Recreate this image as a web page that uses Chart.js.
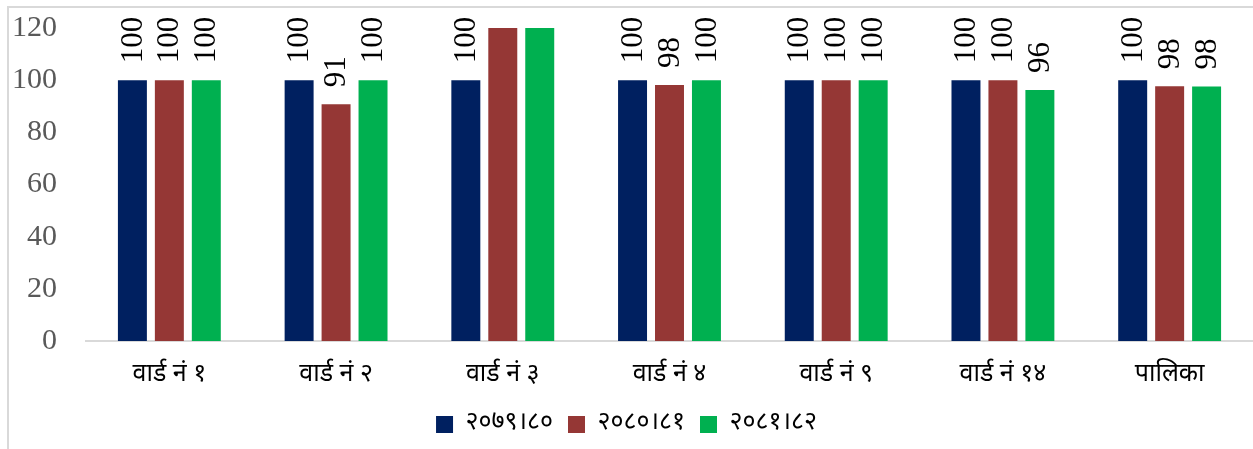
<!DOCTYPE html>
<html>
<head>
<meta charset="utf-8">
<script src="https://cdn.jsdelivr.net/npm/chart.js@4/dist/chart.umd.min.js"></script>
<style>
    html, body { margin: 0; padding: 0; background: #fff; }
    body { width: 1253px; height: 449px; position: relative; overflow: hidden; }
    .frame {
        position: absolute; left: 7px; top: 6px; width: 1300px; height: 500px;
        border-left: 2px solid #d9d9d9; border-top: 2px solid #d9d9d9;
    }
    #wrap { position: absolute; left: 0; top: 0; width: 1253px; height: 449px; }
</style>
</head>
<body>
<div class="frame"></div>
<div id="wrap"><canvas id="wardChart"></canvas></div>
<script>
// Data
const categories = ['वार्ड नं १', 'वार्ड नं २', 'वार्ड नं ३', 'वार्ड नं ४', 'वार्ड नं ९', 'वार्ड नं १४', 'पालिका'];
const seriesNames = ['२०७९।८०', '२०८०।८१', '२०८१।८२'];
const values7980 = [100, 100, 100, 100, 100, 100, 100];
const values8081 = [100, 90.8, 120, 98.1, 100, 100, 97.7];
const values8182 = [100, 100, 120, 100, 100, 96.2, 97.6];
const yTicks = [0, 20, 40, 60, 80, 100, 120];

const colors = {
    navy: '#002060',
    brick: '#953735',
    green: '#00B050',
    axis: '#d9d9d9',
    tick: '#595959',
    text: '#000000'
};

const devFont = '"Noto Sans Devanagari", "Lohit Devanagari", "Mangal", "Noto Sans", sans-serif';
const serifFont = '"Liberation Serif", "Times New Roman", serif';

// Rotated value labels above bars (values at the axis max run off the chart, so they are skipped)
const barLabels = {
    id: 'barLabels',
    afterDatasetsDraw(chart) {
        const ctx = chart.ctx;
        const yMax = chart.scales.y.max;
        ctx.save();
        ctx.font = '31px ' + serifFont;
        ctx.fillStyle = colors.text;
        ctx.textAlign = 'left';
        ctx.textBaseline = 'middle';
        chart.data.datasets.forEach((ds, i) => {
            chart.getDatasetMeta(i).data.forEach((bar, j) => {
                const v = ds.data[j];
                if (v >= yMax) return;
                ctx.save();
                ctx.translate(bar.x, bar.y - 17);
                ctx.rotate(-Math.PI / 2);
                ctx.fillText(String(Math.round(v)), 0, 1);
                ctx.restore();
            });
        });
        ctx.restore();
    }
};

const makeSet = (label, data, color) => ({
    label,
    data,
    backgroundColor: color,
    borderWidth: 0,
    categoryPercentage: 0.665,
    barPercentage: 0.784
});

new Chart(document.getElementById('wardChart').getContext('2d'), {
    type: 'bar',
    data: {
        labels: categories,
        datasets: [
            makeSet(seriesNames[0], values7980, colors.navy),
            makeSet(seriesNames[1], values8081, colors.brick),
            makeSet(seriesNames[2], values8182, colors.green)
        ]
    },
    options: {
        responsive: true,
        maintainAspectRatio: false,
        animation: false,
        layout: { padding: { top: 28, right: 0, bottom: 2, left: 0 } },
        plugins: {
            legend: {
                position: 'bottom',
                labels: {
                    boxWidth: 17,
                    boxHeight: 17,
                    padding: 15,
                    color: colors.text,
                    font: { family: devFont, size: 25 }
                }
            },
            tooltip: { enabled: false }
        },
        scales: {
            x: {
                afterFit: (axis) => { axis.height = 56; },
                grid: { display: false, drawTicks: false },
                border: { display: true, color: colors.axis, width: 2 },
                ticks: {
                    color: colors.text,
                    padding: 20,
                    font: { family: devFont, size: 25 }
                }
            },
            y: {
                min: 0,
                max: 120,
                afterBuildTicks: (axis) => { axis.ticks = yTicks.map(v => ({ value: v })); },
                afterFit: (axis) => {
                    axis.width = 86;
                    axis.paddingTop = 0;
                    axis.paddingBottom = 0;
                },
                grid: { display: false, drawTicks: false },
                border: { display: false },
                ticks: {
                    color: colors.tick,
                    padding: 29,
                    font: { family: serifFont, size: 30 }
                }
            }
        }
    },
    plugins: [barLabels]
});
</script>
</body>
</html>
